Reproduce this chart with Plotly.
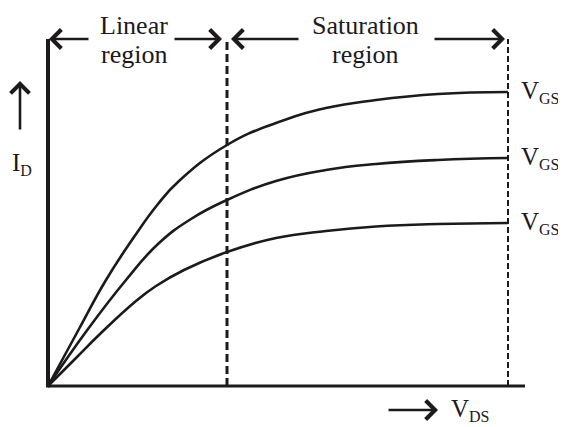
import plotly.graph_objects as go

# ---- data ----
curve_subs = ["GS3", "GS2", "GS1"]

vds_gs3 = [0, 31, 58, 86, 110, 131, 179, 228, 278, 328, 390, 460]
id_gs3 = [0, 57, 106, 149, 182, 205, 241, 263, 278, 286, 292, 294]

vds_gs2 = [0, 40, 78, 110, 143, 179, 228, 278, 328, 390, 460]
id_gs2 = [0, 57, 106, 142, 167, 186, 205, 216, 222, 226, 228]

vds_gs1 = [0, 27, 53, 88, 108, 136, 179, 228, 278, 328, 390, 460]
id_gs1 = [0, 27, 53, 85, 100, 116, 134, 148, 155, 159.5, 162, 163]

linear_end = 179      # boundary between linear and saturation region
sat_end = 460         # right limit of the saturation region
x_axis_end = 477
y_axis_top = 347

region_labels = [("Linear", "region", 86), ("Saturation", "region", 317)]

INK = "#1c1a1a"
FONT = "Liberation Serif, Times New Roman, serif"


def sym(main, sub):
    return f"{main}<sub><span style='font-size:16px'>{sub}</span></sub>"


fig = go.Figure()

# axes lines
fig.add_trace(go.Scatter(x=[0, x_axis_end], y=[0, 0], mode="lines",
                         line=dict(color=INK, width=3), hoverinfo="skip"))
fig.add_trace(go.Scatter(x=[0, 0], y=[-1.5, y_axis_top], mode="lines",
                         line=dict(color=INK, width=4), hoverinfo="skip"))

for xs, ys in [(vds_gs3, id_gs3), (vds_gs2, id_gs2), (vds_gs1, id_gs1)]:
    fig.add_trace(go.Scatter(x=xs, y=ys, mode="lines",
                             line=dict(color=INK, width=2.6, shape="spline", smoothing=1.3),
                             hoverinfo="skip"))

fig.add_trace(go.Scatter(x=[linear_end, linear_end], y=[0, y_axis_top], mode="lines",
                         line=dict(color=INK, width=3, dash="8px,4px"),
                         hoverinfo="skip"))
fig.add_trace(go.Scatter(x=[sat_end, sat_end], y=[0, y_axis_top], mode="lines",
                         line=dict(color=INK, width=2, dash="6px,3px"),
                         hoverinfo="skip"))

annotations = []


def arrow(hx, hy, tx, ty):
    annotations.append(dict(x=hx, y=hy, ax=tx, ay=ty, xref="x", yref="y",
                            axref="x", ayref="y", text="", showarrow=True,
                            arrowhead=4, arrowsize=1.4, arrowwidth=2.6,
                            arrowcolor=INK, standoff=0, startstandoff=0))


# region arrows along the top
arrow(1, 347, 42, 347)
arrow(174, 347, 125, 347)
arrow(183, 347, 252, 347)
arrow(457, 347, 385, 347)
# axis direction arrows
arrow(-28, 305, -28, 255)
arrow(390, -24, 339, -24)

for l1, l2, xc in region_labels:
    annotations.append(dict(x=xc, y=361, xref="x", yref="y", text=l1, showarrow=False,
                            font=dict(family=FONT, size=26, color=INK),
                            xanchor="center", yanchor="middle"))
    annotations.append(dict(x=xc, y=332, xref="x", yref="y", text=l2, showarrow=False,
                            font=dict(family=FONT, size=26, color=INK),
                            xanchor="center", yanchor="middle"))

ends = [id_gs3[-1], id_gs2[-1], id_gs1[-1]]
for sub, yend in zip(curve_subs, ends):
    annotations.append(dict(x=471, y=yend, xref="x", yref="y", text=sym("V", sub), showarrow=False,
                            font=dict(family=FONT, size=25, color=INK),
                            xanchor="left", yanchor="middle"))

annotations.append(dict(x=-38, y=222, xref="x", yref="y", text=sym("I", "D"), showarrow=False,
                        font=dict(family=FONT, size=25, color=INK),
                        xanchor="left", yanchor="middle"))
annotations.append(dict(x=401, y=-24, xref="x", yref="y", text=sym("V", "DS"), showarrow=False,
                        font=dict(family=FONT, size=25, color=INK),
                        xanchor="left", yanchor="middle"))

# the page body adds an 8px margin, so the figure is sized to fill the rest of the window
fig.update_layout(
    width=558, height=419,
    margin=dict(l=0, r=0, t=0, b=0, pad=0),
    paper_bgcolor="white", plot_bgcolor="white",
    showlegend=False,
    annotations=annotations,
    xaxis=dict(range=[-40, 518], visible=False, fixedrange=True),
    yaxis=dict(range=[-41, 378], visible=False, fixedrange=True),
)

fig.write_html("out.html")
